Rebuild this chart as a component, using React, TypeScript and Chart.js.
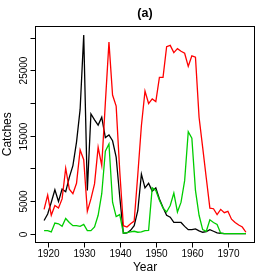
import React, { useEffect, useRef } from "react";
import { Chart, registerables } from "chart.js";

Chart.register(...registerables);

const years = [
  1919, 1920, 1921, 1922, 1923, 1924, 1925, 1926, 1927, 1928, 1929, 1930, 1931, 1932, 1933, 1934, 1935, 1936, 1937,
  1938, 1939, 1940, 1941, 1942, 1943, 1944, 1945, 1946, 1947, 1948, 1949, 1950, 1951, 1952, 1953, 1954, 1955, 1956,
  1957, 1958, 1959, 1960, 1961, 1962, 1963, 1964, 1965, 1966, 1967, 1968, 1969, 1970, 1971, 1972, 1973, 1974, 1975,
];

const blackSeries = [
  2000, 3000, 4800, 6700, 4900, 6800, 6400, 8600, 10400, 14000, 19000, 30400, 6600, 18300, 17400, 16600, 17800, 14700, 15100,
  14200, 11700, 5600, 50, 100, 500, 1200, 3500, 9100, 7000, 7700, 6500, 7000, 5300, 4000, 2800, 2500, 1700, 1700,
  1700, 1100, 600, 600, 700, 400, 200, 300, 600, 350, 100, 50, 0, 0, 0, 0, 0, 0, 0,
];

const redSeries = [
  3700, 5900, 2800, 4300, 3900, 5300, 10000, 6800, 6100, 7700, 12800, 11300, 3400, 5300, 7600, 13200, 10400, 20000, 29300,
  21200, 19500, 9500, 1200, 1000, 1500, 1900, 9000, 16500, 21800, 19900, 20600, 20200, 23900, 23900, 28600, 28800, 27700, 28300,
  27900, 27600, 25600, 27200, 27000, 17800, 13200, 8500, 3900, 3800, 2900, 3700, 3200, 3400, 2200, 1700, 1300, 1000, 200,
];

const greenSeries = [
  450, 450, 250, 1600, 1500, 1100, 2300, 1700, 1200, 1200, 1100, 1400, 450, 450, 1000, 2800, 6100, 12600, 13700,
  4800, 2600, 2900, 50, 150, 250, 350, 200, 250, 450, 500, 7000, 6600, 5100, 3900, 3300, 4300, 6200, 3300,
  4800, 8100, 15600, 14600, 6600, 2800, 600, 350, 2100, 1700, 1400, 50, 0, 0, 0, 0, 0, 0, 0,
];

const xTicks = [1920, 1930, 1940, 1950, 1960, 1970];
const yTicks = [0, 5000, 10000, 15000, 20000, 25000, 30000];
const yTickLabels = ["0", "5000", "", "15000", "", "25000", ""];

const FONT = "'Liberation Sans', Arial, Helvetica, sans-serif";

export default function App() {
  const ref = useRef<HTMLCanvasElement | null>(null);

  useEffect(() => {
    const canvas = ref.current;
    if (!canvas) return;

    const frame = {
      id: "rframe",
      afterDraw(chart: any) {
        const ctx = chart.ctx as CanvasRenderingContext2D;
        const a = chart.chartArea;
        const xs = chart.scales.x;
        const ys = chart.scales.y;
        ctx.save();
        ctx.strokeStyle = "#000";
        ctx.fillStyle = "#000";
        ctx.lineWidth = 1;
        // box
        const L = Math.round(a.left) - 0.5;
        const R = Math.round(a.right) + 0.5;
        const T = Math.round(a.top) - 0.5;
        const B = Math.round(a.bottom) + 0.5;
        ctx.strokeRect(L, T, R - L, B - T);
        // x ticks
        ctx.font = `10px ${FONT}`;
        ctx.textAlign = "center";
        ctx.textBaseline = "alphabetic";
        xTicks.forEach((v) => {
          const px = Math.round(xs.getPixelForValue(v)) + 0.5;
          ctx.beginPath();
          ctx.moveTo(px, B);
          ctx.lineTo(px, B + 5);
          ctx.stroke();
          ctx.fillText(String(v), px, 256.5);
        });
        // y ticks
        yTicks.forEach((v, i) => {
          const py = Math.round(ys.getPixelForValue(v)) + 0.5;
          ctx.beginPath();
          ctx.moveTo(L - 5, py);
          ctx.lineTo(L, py);
          ctx.stroke();
          const lab = yTickLabels[i];
          if (lab) {
            ctx.save();
            ctx.translate(27, py);
            ctx.rotate(-Math.PI / 2);
            ctx.fillText(lab, 0, 0);
            ctx.restore();
          }
        });
        // axis titles
        ctx.font = `12px ${FONT}`;
        ctx.fillText("Year", (a.left + a.right) / 2, 270.5);
        ctx.save();
        ctx.translate(11, (a.top + a.bottom) / 2);
        ctx.rotate(-Math.PI / 2);
        ctx.fillText("Catches", 0, 0);
        ctx.restore();
        // title
        ctx.font = `bold 12.5px ${FONT}`;
        ctx.textBaseline = "middle";
        ctx.fillText("(a)", (a.left + a.right) / 2, 14);
        ctx.restore();
      },
    };

    const mk = (data: number[], color: string) => ({
      data: years.map((y, i) => ({ x: y, y: data[i] })),
      borderColor: color,
      backgroundColor: color,
      borderWidth: 1.3,
      pointRadius: 0,
      tension: 0,
      fill: false,
    });

    const chart = new Chart(canvas, {
      type: "line",
      data: {
        datasets: [
          { label: "green", ...mk(greenSeries, "#00CD00") },
          { label: "red", ...mk(redSeries, "#FF0000") },
          { label: "black", ...mk(blackSeries, "#000000") },
        ],
      },
      options: {
        responsive: false,
        animation: false,
        events: [],
        layout: { padding: { left: 36, top: 27, right: 23, bottom: 35.5 } },
        plugins: {
          legend: { display: false },
          tooltip: { enabled: false },
          title: { display: false },
        },
        scales: {
          x: { type: "linear", display: false, min: 1916.76, max: 1977.24 },
          y: { type: "linear", display: false, min: -1216, max: 31616 },
        },
      },
      plugins: [frame],
    });

    return () => chart.destroy();
  }, []);

  return (
    <div style={{ position: "fixed", left: 0, top: 0, width: 277, height: 277, background: "#fff" }}>
      <canvas ref={ref} width={277} height={277} style={{ width: 277, height: 277, display: "block" }} />
    </div>
  );
}
